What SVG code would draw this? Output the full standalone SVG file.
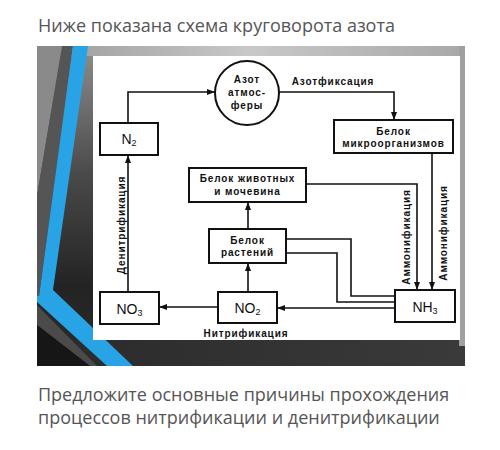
<svg xmlns="http://www.w3.org/2000/svg" width="500" height="450" viewBox="0 0 500 450">
<defs>
<style>
.cap{font-family:"Open Sans","Liberation Sans",sans-serif;font-size:18px;fill:#555}
.box{fill:#fff;stroke:#111;stroke-width:2}
.ln{fill:none;stroke:#111;stroke-width:1.6}
.t{font-family:"Liberation Sans",Arial,sans-serif;font-size:10px;font-weight:bold;letter-spacing:0.9px;fill:#111;text-anchor:middle}
.big{font-family:"Liberation Sans",Arial,sans-serif;font-size:14px;fill:#111;text-anchor:middle}
.sub{font-size:9px}
</style>
<marker id="ah" markerWidth="8" markerHeight="6" refX="8" refY="3" orient="auto" markerUnits="userSpaceOnUse">
<path d="M0,0 L8,3 L0,6 z" fill="#111"/>
</marker>
<linearGradient id="bg" x1="0" y1="0" x2="0" y2="1">
<stop offset="0" stop-color="#8e8e8e"/>
<stop offset="0.4" stop-color="#4a4a4a"/>
<stop offset="0.75" stop-color="#232323"/>
<stop offset="1" stop-color="#2c2c2c"/>
</linearGradient>
<linearGradient id="topb" x1="0" y1="0" x2="1" y2="0">
<stop offset="0" stop-color="#9a9a9a"/>
<stop offset="0.5" stop-color="#c8c8c8"/>
<stop offset="1" stop-color="#a8a8a8"/>
</linearGradient>
<linearGradient id="botb" x1="0" y1="0" x2="1" y2="0">
<stop offset="0" stop-color="#2a2a2a"/>
<stop offset="1" stop-color="#3a3a3a"/>
</linearGradient>
</defs>
<rect width="500" height="450" fill="#fff"/>
<text class="cap" x="38" y="32">Ниже показана схема круговорота азота</text>
<g id="panel">
<rect x="37" y="46" width="428" height="320" fill="url(#bg)"/>
<rect x="37" y="340" width="428" height="26" fill="url(#botb)"/>
<rect x="37" y="46" width="428" height="10" fill="url(#topb)"/>
<rect x="459" y="46" width="6" height="300" fill="#a0a0a0"/>
<polygon points="37,46 62,46 37,196" fill="#8a8a8a"/>
<polygon points="62,46 73,46 39,296 37,296 37,196" fill="#555"/>
<polygon points="37,305 97,366 90,366 37,325" fill="#4a4a4a"/>
<polygon points="37,325 90,366 37,366" fill="#161616"/>
<polygon points="73,46 88,46 53,290 133,366 107,366 37,302 37,296 39,296" fill="#27a3e6"/>
<rect x="93" y="56" width="367" height="284" fill="#fff"/>
</g>
<g id="connectors">
<path class="ln" d="M128,123 V92 H215" marker-end="url(#ah)"/>
<path class="ln" d="M279,92 H394 V120" marker-end="url(#ah)"/>
<path class="ln" d="M432,153 V290" marker-end="url(#ah)"/>
<path class="ln" d="M306,184 H417 V290" marker-end="url(#ah)"/>
<path class="ln" d="M248,229 V202" marker-end="url(#ah)"/>
<path class="ln" d="M286,239 H351 V296 H395"/>
<path class="ln" d="M286,253 H337 V302 H395"/>
<path class="ln" d="M395,308 H277" marker-end="url(#ah)"/>
<path class="ln" d="M218,307 H159" marker-end="url(#ah)"/>
<path class="ln" d="M248,292 V263" marker-end="url(#ah)"/>
<path class="ln" d="M128,292 V155" marker-end="url(#ah)"/>
<text class="t" x="333" y="85">Азотфиксация</text>
<text class="t" x="246" y="337">Нитрификация</text>
<text class="t" transform="translate(125,225) rotate(-90)">Денитрификация</text>
<text class="t" transform="translate(410,237) rotate(-90)">Аммонификация</text>
<text class="t" transform="translate(447,233) rotate(-90)">Аммонификация</text>
</g>
<g id="atm">
<circle cx="247" cy="93" r="32" class="box"/>
<text class="t" x="247" y="83">Азот</text>
<text class="t" x="247" y="96">атмос-</text>
<text class="t" x="247" y="109">феры</text>
</g>
<g id="n2">
<rect class="box" x="100" y="123" width="58" height="32"/>
<text class="big" x="129" y="144">N<tspan class="sub" dy="2">2</tspan></text>
</g>
<g id="micro">
<rect class="box" x="334" y="120" width="119" height="33"/>
<text class="t" x="393.5" y="135">Белок</text>
<text class="t" x="393.5" y="147">микроорганизмов</text>
</g>
<g id="animal">
<rect class="box" x="189" y="168" width="117" height="34"/>
<text class="t" x="247.5" y="182">Белок животных</text>
<text class="t" x="247.5" y="195">и мочевина</text>
</g>
<g id="plant">
<rect class="box" x="209" y="229" width="77" height="34"/>
<text class="t" x="247.5" y="244">Белок</text>
<text class="t" x="247.5" y="256">растений</text>
</g>
<g id="nh3">
<rect class="box" x="395" y="290" width="60" height="32"/>
<text class="big" x="425" y="312">NH<tspan class="sub" dy="2">3</tspan></text>
</g>
<g id="no2">
<rect class="box" x="218" y="292" width="59" height="31"/>
<text class="big" x="247.5" y="313">NO<tspan class="sub" dy="2">2</tspan></text>
</g>
<g id="no3">
<rect class="box" x="100" y="292" width="59" height="32"/>
<text class="big" x="129.5" y="314">NO<tspan class="sub" dy="2">3</tspan></text>
</g>
<text class="cap" x="38" y="401">Предложите основные причины прохождения</text>
<text class="cap" x="38" y="424">процессов нитрификации и денитрификации</text>
</svg>
